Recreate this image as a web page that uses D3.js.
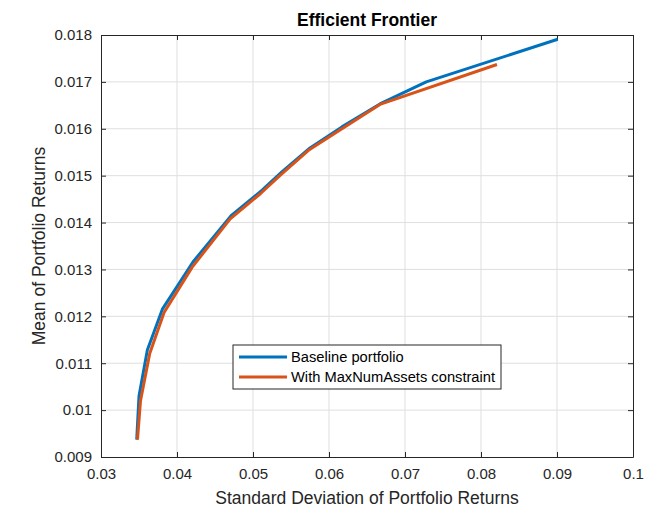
<!DOCTYPE html>
<html>
<head>
<meta charset="utf-8">
<script src="https://cdn.jsdelivr.net/npm/d3@7"></script>
<style>
  body { margin: 0; background: #fff; }
  svg { font-family: "Liberation Sans", Arial, sans-serif; }
</style>
</head>
<body>
<div class="canvas"></div>
<script>
// frontier points
const baseRisk = [0.0347, 0.0350, 0.0361, 0.0381, 0.0421, 0.0472, 0.0512, 0.0538, 0.0575, 0.0617, 0.0667, 0.0728, 0.0901]
const baseReturn = [0.00937, 0.01030, 0.01128, 0.01216, 0.01316, 0.01416, 0.01469, 0.01508, 0.01559, 0.01604, 0.01653, 0.01700, 0.01791]

const maxRisk = [0.0348, 0.0352, 0.0364, 0.0383, 0.0420, 0.0470, 0.0510, 0.0536, 0.0573, 0.0615, 0.0667, 0.0821]
const maxReturn = [0.00937, 0.01020, 0.01120, 0.01208, 0.01305, 0.01408, 0.01462, 0.01501, 0.01554, 0.01598, 0.01652, 0.01737]

const xTicks = [0.03, 0.04, 0.05, 0.06, 0.07, 0.08, 0.09, 0.1]
const yTicks = [0.009, 0.01, 0.011, 0.012, 0.013, 0.014, 0.015, 0.016, 0.017, 0.018]

const seriesNames = ["Baseline portfolio", "With MaxNumAssets constraint"]
const seriesColors = ["#0072BD", "#D95319"]

const W = 659, H = 508
const pLeft = 101, pRight = 633, pTop = 35, pBottom = 457

const svg = d3.select(".canvas").append("svg")
    .attr("width", W)
    .attr("height", H)

const x = d3.scaleLinear().domain([0.03, 0.1]).range([pLeft, pRight])
const y = d3.scaleLinear().domain([0.009, 0.018]).range([pBottom, pTop])

// grid
svg.append("g").selectAll("line")
    .data(xTicks.slice(1, -1))
    .enter().append("line")
    .attr("x1", d => x(d)).attr("x2", d => x(d))
    .attr("y1", pTop).attr("y2", pBottom)
    .attr("stroke", "#dfdfdf")
svg.append("g").selectAll("line")
    .data(yTicks.slice(1, -1))
    .enter().append("line")
    .attr("x1", pLeft).attr("x2", pRight)
    .attr("y1", d => y(d)).attr("y2", d => y(d))
    .attr("stroke", "#dfdfdf")

// axes, ticks inward like matlab
const fmt = d => String(+d.toFixed(3))
const axColor = "#262626"

const xAxis = svg.append("g").attr("transform", `translate(0,${pBottom})`)
    .call(d3.axisBottom(x).tickValues(xTicks).tickFormat(fmt).tickSizeInner(-5).tickSizeOuter(0).tickPadding(11))
const xAxisTop = svg.append("g").attr("transform", `translate(0,${pTop})`)
    .call(d3.axisTop(x).tickValues(xTicks).tickFormat("").tickSizeInner(-5).tickSizeOuter(0))
const yAxis = svg.append("g").attr("transform", `translate(${pLeft},0)`)
    .call(d3.axisLeft(y).tickValues(yTicks).tickFormat(fmt).tickSizeInner(-5).tickSizeOuter(0).tickPadding(9))
const yAxisRight = svg.append("g").attr("transform", `translate(${pRight},0)`)
    .call(d3.axisRight(y).tickValues(yTicks).tickFormat("").tickSizeInner(-5).tickSizeOuter(0))

;[xAxis, xAxisTop, yAxis, yAxisRight].forEach(g => {
    g.select(".domain").attr("stroke", axColor)
    g.selectAll(".tick line").attr("stroke", axColor)
    g.selectAll("text").attr("fill", "#262626").attr("font-size", 15)
        .attr("font-family", "Liberation Sans, Arial, sans-serif")
})

// lines
const line = d3.line().x(d => x(d[0])).y(d => y(d[1]))
const baseData = baseRisk.map((r, i) => [r, baseReturn[i]])
const maxData = maxRisk.map((r, i) => [r, maxReturn[i]])

;[baseData, maxData].forEach((d, i) => {
    svg.append("path")
        .datum(d)
        .attr("d", line)
        .attr("fill", "none")
        .attr("stroke", seriesColors[i])
        .attr("stroke-width", 3)
        .attr("stroke-linejoin", "round")
})

// title and labels
svg.append("text")
    .attr("x", (pLeft + pRight) / 2).attr("y", 26)
    .attr("text-anchor", "middle")
    .attr("font-size", 17.5).attr("font-weight", "bold")
    .attr("fill", "#000")
    .text("Efficient Frontier")

svg.append("text")
    .attr("x", (pLeft + pRight) / 2).attr("y", 504)
    .attr("text-anchor", "middle")
    .attr("font-size", 17.5).attr("fill", "#262626")
    .text("Standard Deviation of Portfolio Returns")

svg.append("text")
    .attr("transform", `translate(45,${(pTop + pBottom) / 2}) rotate(-90)`)
    .attr("text-anchor", "middle")
    .attr("font-size", 17.5).attr("fill", "#262626")
    .text("Mean of Portfolio Returns")

// legend
const legend = svg.append("g").attr("transform", "translate(233,345)")
legend.append("rect")
    .attr("width", 268).attr("height", 44)
    .attr("fill", "#fff").attr("stroke", axColor)

seriesNames.forEach((name, i) => {
    legend.append("line")
        .attr("x1", 6).attr("x2", 54)
        .attr("y1", 12 + i * 20).attr("y2", 12 + i * 20)
        .attr("stroke", seriesColors[i]).attr("stroke-width", 3)
    legend.append("text")
        .attr("x", 58).attr("y", 17 + i * 20)
        .attr("font-size", 14.7).attr("fill", "#000")
        .text(name)
})
</script>
</body>
</html>
